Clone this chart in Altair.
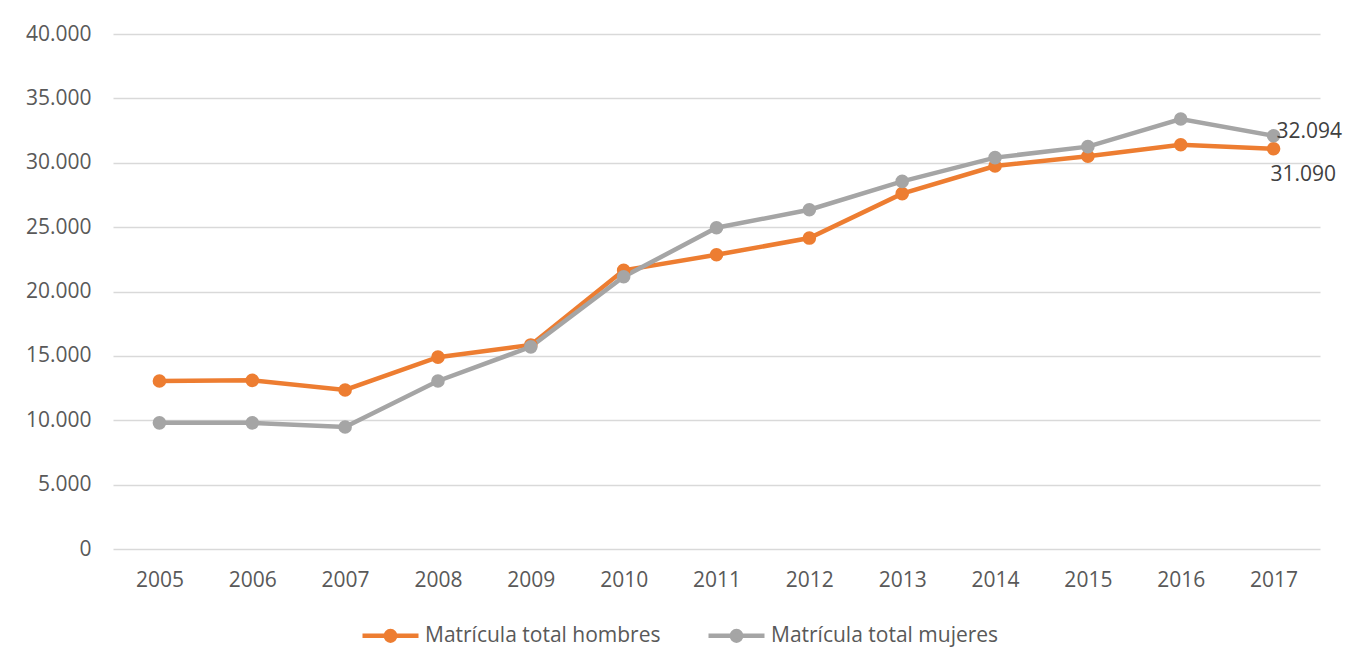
import altair as alt
import pandas as pd

years = ["2005", "2006", "2007", "2008", "2009", "2010", "2011", "2012", "2013", "2014", "2015", "2016", "2017"]
hombres = [13050, 13100, 12350, 14900, 15850, 21650, 22850, 24150, 27600, 29750, 30500, 31400, 31090]
mujeres = [9800, 9800, 9480, 13050, 15700, 21150, 24950, 26350, 28550, 30400, 31250, 33400, 32094]
series = ["Matrícula total hombres", "Matrícula total mujeres"]
colors = ["#ED7D31", "#A5A5A5"]

rows = []
for name, vals in zip(series, [hombres, mujeres]):
    for y, v in zip(years, vals):
        rows.append({"year": y, "value": v, "serie": name})
df = pd.DataFrame(rows)

FONT = "Open Sans"


def legend():
    return alt.Legend(
        title=None,
        orient="none",
        legendX=247,
        legendY=571,
        direction="horizontal",
        symbolType="M-1,0L1,0M0.17,0A0.17,0.17,0,1,1,-0.17,0A0.17,0.17,0,1,1,0.17,0Z",
        symbolSize=3136,
        symbolStrokeWidth=4.5,
        labelFont=FONT,
        labelFontSize=21,
        labelColor="#595959",
        labelOffset=4,
        columnPadding=38,
        padding=0,
        labelLimit=400,
    )


scale = alt.Scale(domain=series, range=colors)

x = alt.X(
    "year:O",
    sort=years,
    scale=alt.Scale(paddingOuter=0.5, paddingInner=0),
    axis=alt.Axis(title=None, ticks=False, domain=False, labelAngle=0,
                  labelFont=FONT, labelFontSize=21, labelColor="#595959", labelPadding=20),
)
y = alt.Y(
    "value:Q",
    scale=alt.Scale(domain=[0, 40000], nice=False),
    axis=alt.Axis(title=None, values=list(range(0, 40001, 5000)), ticks=False, domain=False,
                  labelExpr="format(datum.value, ',')", labelFont=FONT, labelFontSize=21,
                  labelColor="#595959", labelPadding=22, gridColor="#D9D9D9", gridWidth=1.5),
)

base = alt.Chart(df)
lines = base.mark_line(strokeWidth=4.5).encode(
    x=x, y=y, stroke=alt.Stroke("serie:N", scale=scale, legend=legend())
)
points = base.mark_circle(size=185, opacity=1).encode(
    x=x, y=y, fill=alt.Fill("serie:N", scale=scale, legend=legend())
)

last = df[df["year"] == "2017"]
lab_m = alt.Chart(last[last["serie"] == series[1]]).mark_text(
    align="left", baseline="middle", dx=3, dy=-4, font=FONT, fontSize=21, color="#404040"
).encode(x=x, y=y, text=alt.Text("value:Q", format=","))
lab_h = alt.Chart(last[last["serie"] == series[0]]).mark_text(
    align="left", baseline="middle", dx=-3, dy=26, font=FONT, fontSize=21, color="#404040"
).encode(x=x, y=y, text=alt.Text("value:Q", format=","))

chart = alt.layer(lines, points, lab_m, lab_h).properties(
    width=1207,
    height=515,
    autosize=alt.AutoSizeParams(type="none"),
    padding={"left": 105, "top": 26, "right": 24, "bottom": 100},
).configure(
    view=alt.ViewConfig(stroke=None),
    locale={"number": {"decimal": ",", "thousands": ".", "grouping": [3], "currency": ["", "€"]}},
)

chart.save("out.html", embed_options={"renderer": "svg", "actions": False})
